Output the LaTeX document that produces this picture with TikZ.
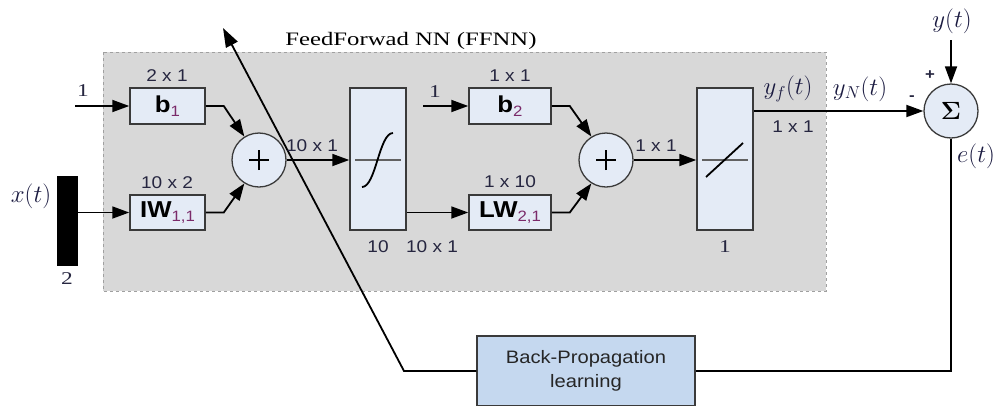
\documentclass[tikz,border=0pt]{standalone}
\usepackage{fontspec}
\usepackage{amsmath}
\usetikzlibrary{arrows.meta}
\setmainfont{Liberation Serif}[FakeStretch=1.3]
\newfontfamily\dimsans{Liberation Sans}[FakeStretch=1.12]
\definecolor{graybg}{HTML}{D8D8D8}
\definecolor{grayborder}{HTML}{A0A0A0}
\definecolor{blkfill}{HTML}{E4EBF6}
\definecolor{bpfill}{HTML}{C5D8EF}
\definecolor{bordercol}{HTML}{3A3A3A}
\definecolor{dimtext}{HTML}{262640}
\definecolor{subcol}{HTML}{7A2A6A}
\definecolor{mathcol}{HTML}{1A1A40}
\newcommand\subc[1]{\raisebox{-0.3ex}{\fontsize{15}{15}\selectfont\color{subcol}\mdseries #1}}
\begin{document}
\begin{tikzpicture}[x=1pt,y=-1pt,line width=1.8pt,
  >={Triangle[length=17pt,width=12pt]},
  blk/.style={draw=bordercol,fill=blkfill,line width=1.5pt,inner sep=0pt,
     font=\dimsans\fontsize{23}{23}\selectfont\bfseries},
  sumnode/.style={circle,draw=bordercol,fill=blkfill,line width=1.3pt,minimum size=54pt,inner sep=0pt},
  dimlbl/.style={text=dimtext,font=\dimsans\fontsize{17}{17}\selectfont,inner sep=0pt},
  serlbl/.style={text=dimtext,font=\fontsize{18}{18}\selectfont,inner sep=0pt},
  mathlbl/.style={text=mathcol,font=\fontsize{23}{23}\selectfont,inner sep=0pt}]
\useasboundingbox (0,0) rectangle (995,405);

% FFNN region
\fill[graybg] (103,52) rectangle (826,291);
\draw[grayborder,dashed,line width=0.9pt] (103,52) rectangle (826,291);
\node[font=\fontsize{19}{19}\selectfont,inner sep=0pt] (title) at (411,41) {FeedForwad NN (FFNN)};

% blocks
\node[blk,minimum width=75pt,minimum height=36pt] (b1) at (167.5,106) {b\subc{1}};
\node[blk,minimum width=75pt,minimum height=35pt] (iw) at (167.5,212.5) {IW\subc{1,1}};
\node[blk,minimum width=82pt,minimum height=36pt] (b2) at (510,106) {b\subc{2}};
\node[blk,minimum width=82pt,minimum height=35pt] (lw) at (510,212.5) {LW\subc{2,1}};
\node[blk,minimum width=56pt,minimum height=142pt] (tansig) at (378,159) {};
\node[blk,minimum width=56pt,minimum height=142pt] (purelin) at (725,159) {};
\node[sumnode] (sum1) at (259,160) {};
\node[sumnode] (sum2) at (606,160) {};
\node[sumnode] (sigma) at (951,111) {\fontsize{23}{23}\selectfont$\boldsymbol{\Sigma}$};
\node[draw=black,fill=black,minimum width=19pt,minimum height=88pt,inner sep=0pt] (bar) at (67.5,221) {};
\node[draw=bordercol,fill=bpfill,line width=1.5pt,minimum width=218pt,minimum height=70pt,
      align=center,font=\dimsans\fontsize{18}{24}\selectfont,text=black!85] (bp) at (586,371) {Back-Propagation\\learning};

% plus signs
\draw[line width=1.8pt] ([xshift=-10pt]sum1.center) -- ([xshift=10pt]sum1.center);
\draw[line width=1.8pt] ([yshift=-10pt]sum1.center) -- ([yshift=10pt]sum1.center);
\draw[line width=1.8pt] ([xshift=-10pt]sum2.center) -- ([xshift=10pt]sum2.center);
\draw[line width=1.8pt] ([yshift=-10pt]sum2.center) -- ([yshift=10pt]sum2.center);

% transfer function icons
\draw[bordercol!80,line width=1.4pt] (355,160) -- (401,160);
\draw[black,line width=1.8pt] (362,187) .. controls (376,187) and (379,133) .. (393,133);
\draw[bordercol!80,line width=1.4pt] (702,160) -- (748,160);
\draw[black,line width=1.8pt] (706,177) -- (743,143);

% connectors
\coordinate (in1) at (75,106);
\coordinate (in2) at (423,106);
\coordinate (ytop) at (951,40);
\draw[->] (in1) -- (b1.west);
\draw[->] (in2) -- (b2.west);
\draw[->] (bar.east |- iw.west) -- (iw.west);
\draw[->] (b1.east) -- ++(18,0) -- (sum1.122);
\draw[->] (iw.east) -- ++(18,0) -- (sum1.238);
\draw[->] (b2.east) -- ++(18,0) -- (sum2.122);
\draw[->] (lw.east) -- ++(18,0) -- (sum2.238);
\draw[->] (sum1.east) -- (sum1.east -| tansig.west);
\draw[->] (tansig.east |- lw.west) -- (lw.west);
\draw[->] (sum2.east) -- (sum2.east -| purelin.west);
\draw[->] (purelin.east |- sigma.west) -- (sigma.west);
\draw[->] (ytop) -- (sigma.north);
\draw (sigma.south) |- (bp.east);
\coordinate (bend) at (404,371);
\coordinate (tip) at (223,28);
\draw[-{Triangle[length=19pt,width=13pt]}] (bp.west) -- (bend) -- (tip);

% labels
\node[dimlbl] (l21) at (167,76) {2 x 1};
\node[dimlbl] (l102) at (167,183) {10 x 2};
\node[dimlbl] (l11a) at (510,76) {1 x 1};
\node[dimlbl] (l110) at (510,182) {1 x 10};
\node[dimlbl] (l101a) at (312,146) {10 x 1};
\node[dimlbl] (l10) at (378,247) {10};
\node[dimlbl] (l101b) at (432,247) {10 x 1};
\node[dimlbl] (l11b) at (656,146) {1 x 1};
\node[dimlbl] (l11c) at (793,127) {1 x 1};
\node[serlbl] (one1) at (83,91) {1};
\node[serlbl] (one2) at (435,92) {1};
\node[serlbl] (two) at (67,279) {2};
\node[serlbl] (one3) at (725,247) {1};
\node[mathlbl] (xt) at (31,196) {$x(t)$};
\node[mathlbl] (yf) at (788,89) {$y_f(t)$};
\node[mathlbl] (yn) at (860,89) {$y_N(t)$};
\node[mathlbl] (yt) at (952,21) {$y(t)$};
\node[mathlbl] (et) at (976,156) {$e(t)$};
\node[dimlbl,font=\dimsans\bfseries\fontsize{15}{15}\selectfont] (plus) at (930,75) {+};
\node[dimlbl,font=\dimsans\bfseries\fontsize{15}{15}\selectfont] (minus) at (912,98) {-};
\end{tikzpicture}
\end{document}
